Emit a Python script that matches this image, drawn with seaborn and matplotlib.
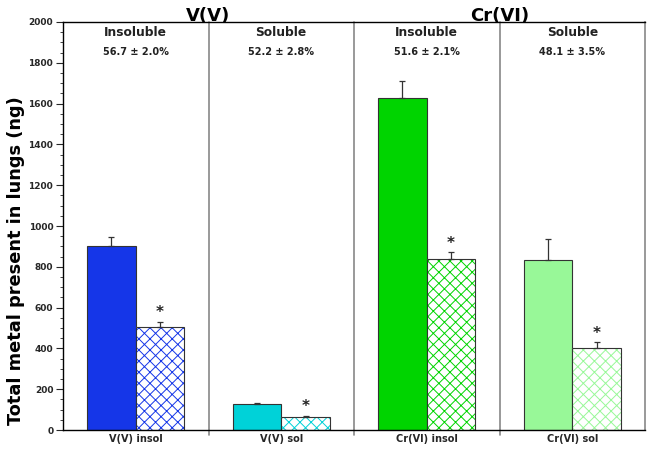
import matplotlib
matplotlib.use("Agg")
import matplotlib.pyplot as plt
import matplotlib.patches as mpatches
from matplotlib.ticker import MultipleLocator
import seaborn as sns
import pandas as pd
import numpy as np

groups = ['V(V) insol', 'V(V) sol', 'Cr(VI) insol', 'Cr(VI) sol']
treatments = ['control', 'treated']
control = [900, 127, 1628, 833]
control_err = [45, 5, 85, 102]
treated = [505, 65, 838, 400]
treated_err = [25, 6, 35, 30]
colors = ['#1536E8', '#00D2D8', '#00D400', '#98F898']
group_titles = ['Insoluble', 'Soluble', 'Insoluble', 'Soluble']
percents = ['56.7 ± 2.0%', '52.2 ± 2.8%', '51.6 ± 2.1%', '48.1 ± 3.5%']
metals = ['V(V)', 'Cr(VI)']
metal_pos = [0.5, 2.5]
yticks = [0, 200, 400, 600, 800, 1000, 1200, 1400, 1600, 1800, 2000]

df = pd.DataFrame({
    'group': groups * 2,
    'treat': [treatments[0]] * 4 + [treatments[1]] * 4,
    'value': control + treated,
    'err': control_err + treated_err,
})

sns.set_style('ticks')
plt.rcParams['font.family'] = ['DejaVu Sans']
plt.rcParams['hatch.linewidth'] = 0.7

fig = plt.figure(figsize=(6.52, 4.51), dpi=100)
ax = fig.add_axes([63 / 652, 1 - 430 / 451, (645 - 63) / 652, (430 - 22) / 451])

sns.barplot(data=df, x='group', y='value', hue='treat', order=groups,
            hue_order=treatments, width=0.67, errorbar=None, ax=ax,
            legend=False, saturation=1)

bars = sorted([p for p in ax.patches if isinstance(p, mpatches.Rectangle) and p.get_height() > 0],
              key=lambda p: p.get_x())
for i, p in enumerate(bars):
    g = i // 2
    col = colors[g]
    if i % 2 == 0:
        p.set_facecolor(col)
        p.set_edgecolor('#333333')
        p.set_linewidth(0.8)
    else:
        p.set_facecolor('white')
        p.set_edgecolor(col)
        p.set_hatch('xxx')
        p.set_linewidth(0)
        outline = mpatches.Rectangle((p.get_x(), p.get_y()), p.get_width(), p.get_height(),
                                     fill=False, edgecolor='#333333', linewidth=0.8, zorder=p.get_zorder() + 0.1)
        ax.add_patch(outline)

# error bars and stars
for i, p in enumerate(bars):
    g = i // 2
    row = df[(df['group'] == groups[g]) & (df['treat'] == treatments[i % 2])].iloc[0]
    xc = p.get_x() + p.get_width() / 2
    ax.errorbar([xc], [row['value']], yerr=[[0], [row['err']]], fmt='none',
                ecolor='#333333', elinewidth=0.9, capsize=2.5, capthick=0.9, zorder=5)
    if i % 2 == 1:
        ax.annotate('*', (xc, row['value'] + row['err']), xytext=(0, 1),
                    textcoords='offset points', ha='center', va='bottom',
                    fontsize=11, fontweight='bold', color='#222222')

ax.set_ylim(0, 2000)
ax.set_xlim(-0.5, 3.5)
ax.set_yticks(yticks)
ax.set_yticklabels([str(t) for t in yticks], fontsize=6.5, fontweight='bold')
ax.yaxis.set_minor_locator(MultipleLocator(50))
ax.tick_params(axis='y', which='major', length=5, width=0.8, direction='out', pad=2)
ax.tick_params(axis='y', which='minor', length=2.5, width=0.6, direction='out')
ax.set_xticks(range(len(groups)))
ax.set_xticklabels(groups, fontsize=7, fontweight='bold')
ax.tick_params(axis='x', length=0, pad=3)
ax.set_xlabel('')
ax.set_ylabel('Total metal present in lungs (ng)', fontsize=12.8, fontweight='bold', color='black')
ax.yaxis.set_label_coords(-0.066, 0.415)

for s in ['left', 'bottom', 'top']:
    ax.spines[s].set_visible(True)
    ax.spines[s].set_color('black')
    ax.spines[s].set_linewidth(1.0)
ax.spines['right'].set_visible(True)
ax.spines['right'].set_color('#888888')
ax.spines['right'].set_linewidth(1.2)

for b in [0.5, 1.5, 2.5]:
    ax.axvline(b, ymin=-0.013, ymax=1, color='#888888', linewidth=1.2, clip_on=False, zorder=1)

for g in range(len(groups)):
    ax.text(g, 0.975, group_titles[g], transform=ax.get_xaxis_transform(), ha='center',
            va='center', fontsize=8.8, fontweight='bold', color='#222222')
    ax.text(g, 0.926, percents[g], transform=ax.get_xaxis_transform(), ha='center',
            va='center', fontsize=7, fontweight='bold', color='#222222')

for m, xp in zip(metals, metal_pos):
    ax.text(xp, 1.002, m, transform=ax.get_xaxis_transform(), ha='center', va='baseline',
            fontsize=13, fontweight='bold', color='black')

fig.savefig('out.png', dpi=100)
